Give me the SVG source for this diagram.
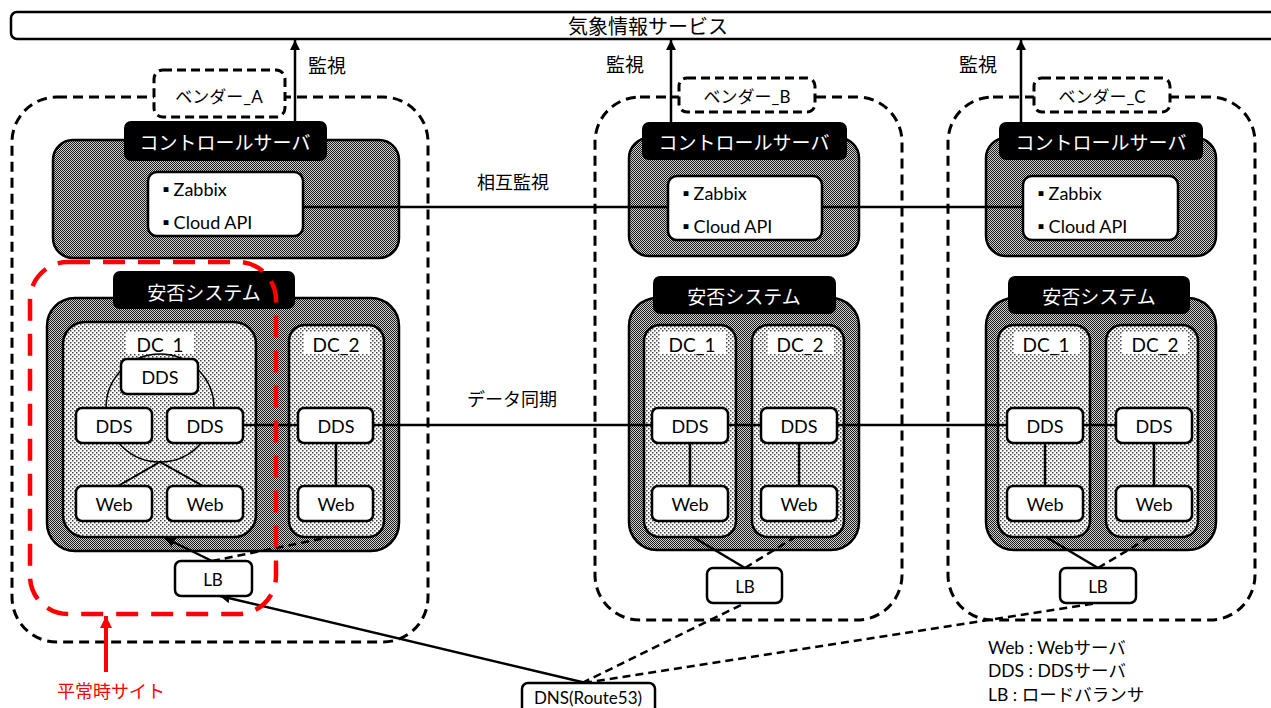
<svg xmlns="http://www.w3.org/2000/svg" width="1271" height="708" viewBox="0 0 1271 708">
<defs>
<pattern id="gray" width="2" height="2" patternUnits="userSpaceOnUse"><rect width="2" height="2" fill="#d0d0d0"/><rect width="1" height="1" fill="#1a1a1a"/><rect x="1" y="1" width="1" height="1" fill="#1a1a1a"/></pattern>
<pattern id="dots" width="4" height="4" patternUnits="userSpaceOnUse"><rect width="4" height="4" fill="#fff"/><rect x="0" y="0" width="1.5" height="1.5" fill="#444"/><rect x="2" y="2" width="1.5" height="1.5" fill="#444"/></pattern>
<marker id="arr" viewBox="0 0 10 10" refX="10" refY="5" markerWidth="4" markerHeight="4" orient="auto" markerUnits="strokeWidth"><path d="M0,0 L10,5 L0,10 z" fill="#000"/></marker>
<marker id="arrR" viewBox="0 0 10 10" refX="10" refY="5" markerWidth="3.5" markerHeight="3" orient="auto" markerUnits="strokeWidth"><path d="M0,0 L10,5 L0,10 z" fill="#f00"/></marker>
</defs>
<style>
text{font-family:Lato,"Noto Sans CJK JP",sans-serif;fill:#000;text-anchor:middle;dominant-baseline:central}
.jp{font-family:"Noto Sans CJK JP",sans-serif}
.w{fill:#fff}
.outer{fill:none;stroke:#000;stroke-width:3;stroke-dasharray:10 6}
.vend{fill:#fff;stroke:#000;stroke-width:3;stroke-dasharray:9 5}
.ctl{fill:url(#gray);stroke:#000;stroke-width:2.5}
.blk{fill:#000}
.wbox{fill:#fff;stroke:#000;stroke-width:2.5}
.dc{fill:url(#dots);stroke:#000;stroke-width:2.5}
.srv{fill:#fff;stroke:#000;stroke-width:2.5}
.ln{stroke:#000;stroke-width:2.5;fill:none}
.dl{stroke:#000;stroke-width:2.5;fill:none;stroke-dasharray:8 5}
.t18{font-size:18px}
.t19{font-size:19px}
.bl{text-anchor:start;font-size:18px}
.sq{font-size:6px;font-family:"Noto Sans CJK JP",sans-serif}
.lg{font-size:17.5px;text-anchor:start}
</style>
<rect width="1271" height="708" fill="#fff"/>

<g id="weather">
<rect x="11" y="12" width="1290" height="27" rx="6" fill="#fff" stroke="#000" stroke-width="2.5"/>
<text x="648" y="25" class="jp" style="font-size:20px">気象情報サービス</text>
</g>

<g id="siteA">
<rect class="outer" x="12" y="97" width="416" height="545" rx="45"/>
<rect class="vend" x="154" y="70" width="131" height="47" rx="9"/>
<text x="219" y="96" style="font-size:17px">ベンダー_A</text>
</g>
<g id="siteB">
<rect class="outer" x="595" y="97" width="307" height="523" rx="45"/>
<rect class="vend" x="679" y="78" width="136" height="34" rx="8"/>
<text x="747" y="96" style="font-size:17px">ベンダー_B</text>
</g>
<g id="siteC">
<rect class="outer" x="948" y="97" width="307" height="523" rx="45"/>
<rect class="vend" x="1034" y="78" width="136" height="34" rx="8"/>
<text x="1102" y="96" style="font-size:17px">ベンダー_C</text>
</g>

<g id="ctlA">
<rect class="ctl" x="53" y="140" width="346" height="118" rx="20"/>
<rect class="blk" x="124" y="121" width="203" height="40" rx="7"/>
<text x="225" y="141" class="jp w t19">コントロールサーバ</text>
</g>
<g id="ctlB">
<rect class="ctl" x="629" y="138" width="230" height="118" rx="20"/>
<rect class="blk" x="642" y="122" width="205" height="38" rx="7"/>
<text x="744" y="141" class="jp w t19">コントロールサーバ</text>
</g>
<g id="ctlC">
<rect class="ctl" x="986" y="138" width="230" height="118" rx="20"/>
<rect class="blk" x="999" y="122" width="204" height="38" rx="7"/>
<text x="1101" y="141" class="jp w t19">コントロールサーバ</text>
</g>

<g id="sysA">
<rect class="ctl" x="47" y="298" width="352" height="253" rx="28"/>
<rect class="blk" x="113" y="271" width="182" height="38" rx="7"/>
<text x="204" y="291" class="jp w t19">安否システム</text>
</g>
<g id="sysB">
<rect class="ctl" x="629" y="298" width="230" height="252" rx="28"/>
<rect class="blk" x="653" y="276" width="183" height="38" rx="7"/>
<text x="744" y="295" class="jp w t19">安否システム</text>
</g>
<g id="sysC">
<rect class="ctl" x="986" y="298" width="230" height="252" rx="28"/>
<rect class="blk" x="1008" y="276" width="182" height="38" rx="7"/>
<text x="1099" y="295" class="jp w t19">安否システム</text>
</g>

<g id="dcA1">
<rect class="dc" x="63" y="322" width="193" height="215" rx="22"/>
<rect x="126" y="332" width="68" height="22" fill="#fff"/>
<text x="160" y="344" class="t19">DC_1</text>
<circle cx="160" cy="408" r="54" fill="none" stroke="#000" stroke-width="1.5"/>
</g>
<g id="dcA2">
<rect class="dc" x="289" y="325" width="95" height="212" rx="16"/>
<rect x="304" y="332" width="66" height="22" fill="#fff"/>
<text x="336" y="344" class="t19">DC_2</text>
</g>
<g id="dcB1">
<rect class="dc" x="644" y="325" width="92" height="212" rx="16"/>
<rect x="660" y="332" width="66" height="22" fill="#fff"/>
<text x="692" y="344" class="t19">DC_1</text>
</g>
<g id="dcB2">
<rect class="dc" x="752" y="325" width="92" height="212" rx="16"/>
<rect x="768" y="332" width="66" height="22" fill="#fff"/>
<text x="800" y="344" class="t19">DC_2</text>
</g>
<g id="dcC1">
<rect class="dc" x="998" y="325" width="92" height="212" rx="16"/>
<rect x="1014" y="332" width="66" height="22" fill="#fff"/>
<text x="1046" y="344" class="t19">DC_1</text>
</g>
<g id="dcC2">
<rect class="dc" x="1106" y="325" width="92" height="212" rx="16"/>
<rect x="1122" y="332" width="66" height="22" fill="#fff"/>
<text x="1155" y="344" class="t19">DC_2</text>
</g>

<g id="connectors">
<line class="ln" x1="295" y1="122" x2="295" y2="40" marker-end="url(#arr)"/>
<line class="ln" x1="671" y1="122" x2="671" y2="40" marker-end="url(#arr)"/>
<line class="ln" x1="1021" y1="122" x2="1021" y2="40" marker-end="url(#arr)"/>
<line class="ln" x1="303" y1="207" x2="668" y2="207"/>
<line class="ln" x1="822" y1="207" x2="1023" y2="207"/>
<line class="ln" x1="243" y1="425" x2="298" y2="425"/>
<line class="ln" x1="373" y1="425" x2="652" y2="425"/>
<line class="ln" x1="728" y1="425" x2="761" y2="425"/>
<line class="ln" x1="837" y1="425" x2="1007" y2="425"/>
<line class="ln" x1="1083" y1="425" x2="1116" y2="425"/>
<polyline class="ln" points="118,486 160,462 203,486" style="stroke-width:2"/>
<line class="ln" x1="336" y1="443" x2="336" y2="486"/>
<line class="ln" x1="690" y1="443" x2="690" y2="486"/>
<line class="ln" x1="799" y1="443" x2="799" y2="486"/>
<line class="ln" x1="1045" y1="443" x2="1045" y2="486"/>
<line class="ln" x1="1154" y1="443" x2="1154" y2="486"/>
<line class="ln" x1="212" y1="561" x2="165" y2="538" marker-end="url(#arr)"/>
<line class="dl" x1="212" y1="561" x2="330" y2="537"/>
<line class="ln" x1="745" y1="568" x2="693" y2="537"/>
<line class="dl" x1="745" y1="568" x2="795" y2="537"/>
<line class="ln" x1="1098" y1="568" x2="1046" y2="537"/>
<line class="dl" x1="1098" y1="568" x2="1150" y2="537"/>
<line class="ln" x1="586" y1="683" x2="220" y2="596" marker-end="url(#arr)"/>
<line class="dl" x1="582" y1="683" x2="745" y2="603"/>
<line class="dl" x1="584" y1="683" x2="1098" y2="603"/>
<line x1="106" y1="672" x2="106" y2="616" stroke="#f00" stroke-width="4" marker-end="url(#arrR)"/>
</g>

<g id="zbxA"><rect class="wbox" x="148" y="172" width="155" height="64" rx="9"/>
<text x="163" y="189" class="bl"><tspan class="sq">■</tspan> Zabbix</text>
<text x="163" y="222" class="bl"><tspan class="sq">■</tspan> Cloud API</text></g>
<g id="zbxB"><rect class="wbox" x="668" y="176" width="154" height="64" rx="9"/>
<text x="683" y="193" class="bl"><tspan class="sq">■</tspan> Zabbix</text>
<text x="683" y="226" class="bl"><tspan class="sq">■</tspan> Cloud API</text></g>
<g id="zbxC"><rect class="wbox" x="1023" y="176" width="155" height="64" rx="9"/>
<text x="1038" y="193" class="bl"><tspan class="sq">■</tspan> Zabbix</text>
<text x="1038" y="226" class="bl"><tspan class="sq">■</tspan> Cloud API</text></g>

<g id="ddsA0"><rect class="srv" x="121" y="359" width="77" height="35" rx="6"/><text x="160" y="377" class="t18">DDS</text></g>
<g id="ddsA1"><rect class="srv" x="76" y="408" width="76" height="35" rx="6"/><text x="114" y="426" class="t18">DDS</text></g>
<g id="ddsA2"><rect class="srv" x="167" y="408" width="76" height="35" rx="6"/><text x="205" y="426" class="t18">DDS</text></g>
<g id="webA1"><rect class="srv" x="76" y="486" width="76" height="35" rx="6"/><text x="114" y="504" class="t18">Web</text></g>
<g id="webA2"><rect class="srv" x="167" y="486" width="76" height="35" rx="6"/><text x="205" y="504" class="t18">Web</text></g>
<g id="ddsA3"><rect class="srv" x="298" y="408" width="75" height="35" rx="6"/><text x="336" y="426" class="t18">DDS</text></g>
<g id="webA3"><rect class="srv" x="298" y="486" width="75" height="35" rx="6"/><text x="336" y="504" class="t18">Web</text></g>

<g id="ddsB1"><rect class="srv" x="652" y="408" width="76" height="35" rx="6"/><text x="690" y="426" class="t18">DDS</text></g>
<g id="webB1"><rect class="srv" x="652" y="486" width="76" height="35" rx="6"/><text x="690" y="504" class="t18">Web</text></g>
<g id="ddsB2"><rect class="srv" x="761" y="408" width="76" height="35" rx="6"/><text x="799" y="426" class="t18">DDS</text></g>
<g id="webB2"><rect class="srv" x="761" y="486" width="76" height="35" rx="6"/><text x="799" y="504" class="t18">Web</text></g>

<g id="ddsC1"><rect class="srv" x="1007" y="408" width="76" height="35" rx="6"/><text x="1045" y="426" class="t18">DDS</text></g>
<g id="webC1"><rect class="srv" x="1007" y="486" width="76" height="35" rx="6"/><text x="1045" y="504" class="t18">Web</text></g>
<g id="ddsC2"><rect class="srv" x="1116" y="408" width="76" height="35" rx="6"/><text x="1154" y="426" class="t18">DDS</text></g>
<g id="webC2"><rect class="srv" x="1116" y="486" width="76" height="35" rx="6"/><text x="1154" y="504" class="t18">Web</text></g>

<g id="lbA"><rect class="srv" x="175" y="561" width="77" height="35" rx="6"/><text x="213" y="579" style="font-size:17px">LB</text></g>
<g id="lbB"><rect class="srv" x="707" y="568" width="75" height="35" rx="6"/><text x="745" y="586" style="font-size:17px">LB</text></g>
<g id="lbC"><rect class="srv" x="1060" y="568" width="76" height="35" rx="6"/><text x="1098" y="586" style="font-size:17px">LB</text></g>
<g id="dns"><rect class="srv" x="522" y="683" width="133" height="40" rx="6"/><text x="588" y="697" style="font-size:17px">DNS(Route53)</text></g>

<g id="normalSite">
<rect x="30" y="262" width="246" height="352" rx="38" fill="none" stroke="#f00" stroke-width="4.5" stroke-dasharray="22 13"/>
<text x="111" y="690" class="jp" style="font-size:18px;fill:#f00">平常時サイト</text>
</g>

<g id="labels">
<text x="327" y="64" class="jp t19">監視</text>
<text x="625" y="63" class="jp t19">監視</text>
<text x="978" y="63" class="jp t19">監視</text>
<text x="513" y="181" class="jp t18">相互監視</text>
<text x="512" y="398" class="jp t18">データ同期</text>
<text x="988" y="647" class="lg">Web : Webサーバ</text>
<text x="988" y="670" class="lg">DDS : DDSサーバ</text>
<text x="988" y="694" class="lg">LB : ロードバランサ</text>
</g>
</svg>
